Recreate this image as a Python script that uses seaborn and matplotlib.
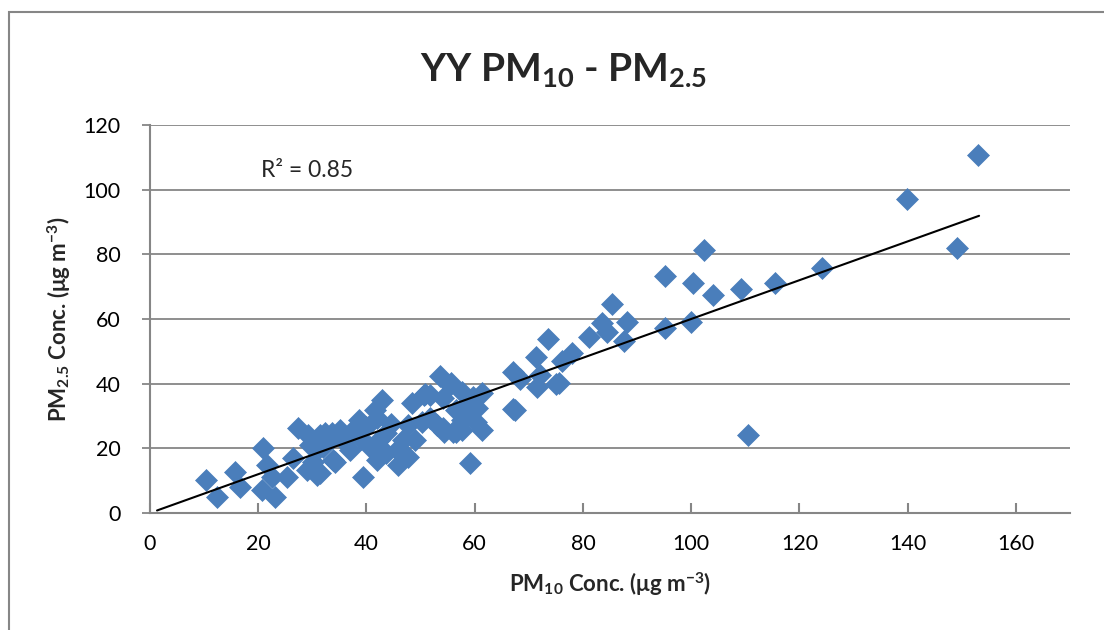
import numpy as np
import pandas as pd
import matplotlib
matplotlib.use("Agg")
import matplotlib.pyplot as plt
from matplotlib import font_manager
from matplotlib.patches import Rectangle
import seaborn as sns

# Paired daily concentrations (µg m-3)
pm10 = [10.3, 12.4, 15.7, 16.6, 20.8, 21.6, 22.5, 20.7, 23.1, 25.3,
        26.4, 27.3, 29.0, 29.2, 29.5, 30.1, 30.8, 31.4, 31.9, 33.6,
        34.1, 31.4, 31.4, 32.3, 33.8, 33.8, 35.1, 36.9, 37.5, 38.7,
        39.3, 40.0, 40.6, 41.5, 41.9, 42.4, 42.8, 43.7, 43.7, 45.6,
        45.8, 46.7, 47.6, 47.6, 48.5, 48.9, 50.2, 50.7, 50.9, 51.7,
        51.7, 53.1, 53.5, 54.1, 54.1, 54.4, 55.4, 55.7, 55.9, 56.6,
        56.6, 57.6, 57.7, 57.7, 58.5, 59.0, 59.2, 59.6, 60.3, 60.5,
        61.3, 61.3, 67.0, 67.0, 67.5, 68.3, 71.4, 71.6, 72.0, 73.6,
        75.1, 75.6, 76.2, 77.9, 81.2, 83.6, 84.5, 85.4, 87.5, 88.2,
        95.2, 95.2, 100.0, 100.4, 102.4, 104.1, 109.2, 110.5, 115.5, 124.2,
        139.9, 149.1, 153.0, 44.5, 39.0, 42.0, 36.0]
pm25 = [10.2, 4.9, 12.7, 8.0, 20.1, 14.8, 11.1, 7.1, 4.9, 11.1,
        17.0, 26.3, 13.3, 24.1, 21.0, 15.8, 11.8, 24.1, 20.4, 24.7,
        15.8, 20.4, 12.4, 24.7, 23.5, 16.4, 25.7, 19.5, 25.7, 28.8,
        11.1, 26.6, 20.4, 31.9, 16.4, 22.6, 35.0, 18.6, 24.7, 19.5,
        14.8, 22.6, 27.2, 17.3, 34.0, 22.6, 28.1, 36.5, 36.8, 36.5,
        29.4, 27.2, 42.4, 35.6, 26.3, 25.1, 39.6, 40.2, 25.1, 31.9,
        25.1, 28.8, 37.4, 25.7, 31.9, 34.3, 15.5, 35.9, 28.1, 32.5,
        37.1, 25.7, 43.6, 32.2, 31.9, 41.4, 48.3, 39.0, 42.7, 53.8,
        39.9, 40.2, 47.0, 49.6, 54.4, 58.8, 56.0, 64.6, 53.2, 59.1,
        57.2, 73.3, 59.1, 71.1, 81.3, 67.4, 69.3, 24.1, 71.1, 75.8,
        97.1, 82.0, 110.7, 27.5, 23.0, 29.5, 22.0]

# Linear trend line (y = slope * x + intercept) and its extent
trend_slope = 0.600
trend_intercept = 0.0
trend_range = [1.3, 153.2]
r2_label = "R\u00b2 = 0.85"

x_ticks = [0, 20, 40, 60, 80, 100, 120, 140, 160]
y_ticks = [0, 20, 40, 60, 80, 100, 120]

df = pd.DataFrame({"PM10": pm10, "PM25": pm25})

sns.set_theme(style="white")


def pick_family(candidates):
    """First family whose bold face resolves to a real bold file."""
    for fam in candidates:
        try:
            path = font_manager.findfont(
                font_manager.FontProperties(family=fam, weight="bold"),
                fallback_to_default=False)
        except Exception:
            continue
        if "bold" in path.lower():
            return fam
    return "DejaVu Sans"


family = pick_family(["Lato", "Open Sans", "Noto Sans", "Liberation Sans"])
plt.rcParams["font.family"] = [family, "DejaVu Sans"]
plt.rcParams["mathtext.fontset"] = "custom"
plt.rcParams["mathtext.rm"] = family
plt.rcParams["mathtext.bf"] = family + ":bold"
plt.rcParams["mathtext.it"] = family + ":italic"

grey = "#868686"
blue = "#4A7EBB"

fig = plt.figure(figsize=(11.04, 6.30), dpi=100)
ax = fig.add_axes([150 / 1104, 1 - 513 / 630, 920 / 1104, 388 / 630])

# Outer chart frame
fig.patches.append(Rectangle((9 / 1104, -0.05), 1.2, 1 - 12 / 630 + 0.05,
                             transform=fig.transFigure, fill=False,
                             edgecolor=grey, linewidth=1.5, zorder=0))

ax.set_xlim(0, 170)
ax.set_ylim(0, 120)
ax.set_yticks(y_ticks)
ax.set_xticks(x_ticks)
ax.yaxis.grid(True, color=grey, linewidth=1.3)
ax.xaxis.grid(False)
ax.set_axisbelow(True)

sns.scatterplot(data=df, x="PM10", y="PM25", marker="D", s=125,
                color=blue, edgecolor=blue, linewidth=0.5, ax=ax,
                zorder=3)

xt = np.array(trend_range)
ax.plot(xt, trend_intercept + trend_slope * xt, color="black",
        linewidth=1.5, zorder=4)

ax.text(20.5, 106, r2_label, fontsize=16.5, va="center", ha="left")

for side in ["top", "right"]:
    ax.spines[side].set_visible(False)
for side in ["left", "bottom"]:
    ax.spines[side].set_color(grey)
    ax.spines[side].set_linewidth(1.5)

ax.tick_params(axis="x", bottom=True, direction="in", length=7, width=1.5,
               color=grey, labelsize=15.5, pad=15, labelcolor="black")
ax.tick_params(axis="y", left=True, direction="out", length=6, width=1.3,
               color=grey, labelsize=15.5, pad=15, labelcolor="black")

ax.set_xlabel(r"PM$_{\mathbf{10}}$ Conc. (μg m$^{\mathbf{-3}}$)",
              fontsize=16, fontweight="bold", labelpad=12)
ax.set_ylabel(r"PM$_{\mathbf{2.5}}$ Conc. (μg m$^{\mathbf{-3}}$)",
              fontsize=16, fontweight="bold", labelpad=8)

fig.text(563 / 1104, 1 - 70 / 630, r"YY PM$_{\mathbf{10}}$ - PM$_{\mathbf{2.5}}$",
         fontsize=28, fontweight="bold", ha="center", va="center")

fig.savefig("out.png", dpi=100)
